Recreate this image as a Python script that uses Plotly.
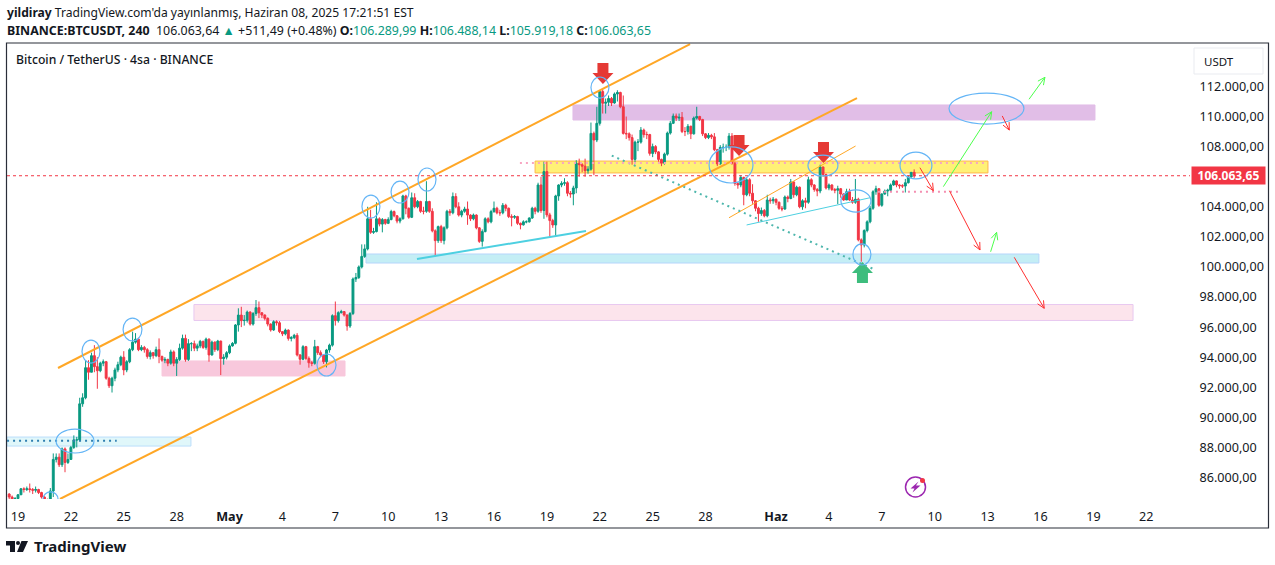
import math
import pandas as pd
import plotly.graph_objects as go

# 4h candles, prices in thousands of USDT
first_candle = "2025-04-18 12:00"
closes = [
    84.7, 84.5, 84.6, 84.85, 85.25, 85.2, 85.25, 85.2, 85.15, 85.2,
    85.0, 84.7, 84.5, 84.5, 85.1, 87.2, 87.35, 86.85, 87.9, 87.0,
    87.2, 88.0, 88.5, 88.5, 90.9, 91.3, 93.3, 93.0, 94.1, 93.37,
    93.1, 93.6, 93.7, 92.6, 92.1, 92.6, 93.15, 93.5, 94.0, 93.15,
    93.7, 94.5, 95.0, 95.2, 94.5, 94.65, 94.5, 94.05, 94.3, 94.1,
    94.5, 94.05, 93.8, 93.85, 93.6, 94.35, 93.6, 93.85, 94.6, 95.25,
    93.85, 94.9, 94.9, 94.6, 94.75, 95.05, 94.65, 95.2, 94.15, 95.0,
    94.5, 95.07, 93.9, 94.0, 94.3, 94.75, 94.92, 96.14, 96.8, 96.43,
    96.45, 97.0, 96.2, 96.9, 97.29, 96.95, 96.8, 96.58, 96.2, 95.81,
    96.36, 96.29, 95.7, 95.55, 95.8, 95.25, 95.3, 95.45, 94.15, 93.86,
    94.7, 93.92, 93.63, 93.59, 94.7, 94.3, 94.14, 93.7, 94.48, 94.8,
    96.76, 96.43, 96.96, 97.03, 96.8, 96.07, 96.9, 99.2, 99.3, 100.0,
    100.7, 101.2, 103.2, 102.3, 102.35, 103.2, 102.85, 103.15, 102.9, 103.15,
    103.68, 103.4, 103.05, 103.2, 104.72, 103.9, 103.3, 104.6, 104.0, 104.35,
    103.7, 103.7, 104.35, 103.7, 102.4, 101.75, 102.68, 101.75, 102.6, 103.7,
    103.6, 104.68, 104.0, 103.45, 103.7, 103.85, 103.45, 103.2, 103.45, 102.6,
    101.7, 102.35, 103.2, 103.0, 103.68, 103.9, 103.6, 103.6, 104.1, 103.9,
    103.35, 103.3, 103.35, 102.9, 102.8, 103.0, 103.0, 103.25, 103.9, 103.7,
    105.45, 103.75, 106.34, 103.46, 103.08, 102.79, 104.72, 105.45, 105.56, 105.6,
    104.9, 104.85, 105.25, 106.9, 106.8, 106.7, 106.4, 106.5, 108.88, 108.44,
    109.55, 111.66, 110.88, 110.95, 111.2, 110.9, 111.5, 111.6, 110.65, 108.88,
    108.85, 108.6, 107.15, 108.3, 108.3, 109.1, 108.8, 108.8, 107.55, 108.0,
    107.65, 107.15, 106.9, 107.5, 108.9, 109.55, 110.03, 109.9, 109.95, 109.0,
    109.0, 109.35, 108.85, 109.9, 110.0, 109.8, 108.85, 108.6, 108.75, 108.65,
    107.8, 106.85, 107.95, 107.95, 107.95, 108.7, 106.9, 105.55, 105.45, 105.95,
    104.8, 105.8, 104.9, 104.4, 103.9, 103.55, 103.75, 103.4, 104.45, 104.4,
    104.5, 104.3, 103.9, 103.85, 104.65, 104.55, 105.65, 104.8, 105.3, 104.0,
    104.4, 104.3, 105.8, 105.45, 105.15, 105.05, 106.65, 106.15, 105.25, 105.45,
    105.15, 105.1, 105.2, 104.85, 104.45, 105.0, 104.45, 104.3, 104.5, 101.8,
    101.46, 102.42, 103.0, 103.9, 105.0, 105.2, 104.1, 104.85, 105.05, 105.1,
    105.45, 105.72, 105.45, 105.4, 105.38, 105.6, 105.98, 106.29, 106.06365,
]
highs = [
    84.95, 84.8, 84.7, 84.9, 85.3, 85.35, 85.4, 85.6, 85.3, 85.4,
    85.25, 85.05, 84.75, 84.6, 85.3, 87.6, 87.6, 87.6, 88.0, 88.0,
    87.6, 88.1, 88.8, 88.7, 91.3, 91.6, 93.8, 93.8, 94.3, 94.8,
    94.0, 93.7, 93.85, 93.75, 92.7, 92.7, 93.3, 93.7, 94.1, 94.4,
    93.8, 94.6, 95.7, 95.6, 95.3, 94.8, 94.75, 94.6, 94.45, 94.35,
    94.7, 95.25, 94.1, 94.0, 93.9, 94.5, 94.45, 94.0, 94.9, 95.5,
    95.5, 95.2, 95.0, 95.1, 94.9, 95.15, 95.1, 95.3, 95.25, 95.1,
    95.05, 95.15, 95.1, 94.2, 94.4, 94.85, 95.0, 96.2, 97.25, 97.35,
    96.8, 97.1, 97.05, 97.0, 97.8, 97.7, 97.0, 96.85, 96.65, 96.25,
    96.45, 96.45, 96.4, 95.7, 95.9, 95.85, 95.4, 95.55, 95.6, 94.2,
    94.8, 94.75, 94.05, 93.75, 95.15, 94.75, 94.45, 94.2, 94.55, 94.9,
    96.85, 97.7, 97.05, 97.15, 97.05, 96.85, 97.0, 99.3, 99.6, 100.1,
    101.5, 101.5, 104.0, 103.8, 102.6, 104.3, 103.3, 103.25, 103.2, 103.3,
    103.8, 103.75, 103.45, 103.3, 104.8, 104.8, 103.95, 104.95, 104.9, 104.45,
    104.4, 104.0, 105.7, 104.4, 103.9, 102.5, 102.75, 102.8, 102.7, 103.8,
    103.85, 104.95, 104.9, 104.3, 103.8, 104.0, 104.35, 103.5, 103.55, 103.5,
    102.65, 102.5, 103.3, 103.3, 103.8, 104.35, 104.0, 103.8, 104.25, 104.2,
    103.95, 103.5, 103.45, 103.4, 102.95, 103.1, 103.1, 103.3, 104.0, 104.0,
    105.6, 106.0, 107.0, 107.0, 103.6, 103.2, 104.8, 105.5, 105.7, 105.9,
    105.7, 105.05, 105.4, 107.1, 107.2, 106.9, 107.2, 106.7, 109.6, 109.0,
    110.65, 111.75, 111.8, 111.2, 111.4, 111.3, 111.6, 111.75, 111.65, 111.4,
    110.0, 108.95, 108.8, 108.4, 108.5, 109.3, 109.2, 109.0, 108.85, 108.2,
    108.1, 107.7, 107.2, 107.6, 109.0, 109.7, 110.2, 110.2, 110.2, 110.3,
    109.3, 109.5, 109.4, 110.0, 110.65, 110.05, 109.85, 108.9, 108.9, 108.85,
    108.9, 107.85, 108.1, 108.2, 108.15, 108.9, 108.9, 107.0, 105.65, 106.1,
    106.0, 105.9, 105.9, 105.5, 104.45, 104.0, 103.95, 103.85, 104.8, 104.6,
    104.65, 104.55, 104.35, 104.05, 104.75, 104.75, 105.85, 105.7, 105.4, 105.35,
    104.5, 104.6, 106.0, 105.9, 105.5, 105.25, 106.8, 106.65, 106.2, 105.55,
    105.5, 105.25, 105.4, 105.25, 104.9, 105.2, 105.2, 104.65, 105.85, 104.6,
    101.9, 102.5, 103.1, 104.05, 105.1, 105.4, 105.25, 104.9, 105.15, 105.2,
    105.55, 105.8, 105.75, 105.5, 105.5, 105.85, 106.1, 106.3, 106.48814,
]
lows = [
    84.5, 84.4, 84.4, 84.5, 84.85, 85.0, 85.1, 85.0, 84.9, 85.0,
    84.9, 84.6, 84.4, 84.3, 84.4, 84.7, 87.0, 86.7, 86.7, 86.35,
    86.9, 87.2, 87.9, 88.0, 88.4, 90.7, 91.2, 92.5, 93.0, 93.0,
    91.9, 93.0, 93.4, 92.5, 91.95, 91.65, 92.4, 93.0, 93.4, 92.8,
    93.0, 93.6, 94.4, 94.9, 94.4, 94.4, 94.3, 93.9, 93.85, 93.9,
    94.0, 93.6, 93.7, 93.6, 93.4, 93.5, 93.4, 92.75, 93.75, 94.5,
    93.7, 93.75, 94.4, 94.4, 94.4, 94.6, 94.55, 94.5, 93.7, 94.1,
    94.35, 94.4, 92.81, 93.5, 93.85, 94.2, 94.7, 94.85, 95.7, 96.0,
    96.1, 96.3, 96.1, 96.1, 96.75, 96.6, 96.6, 96.45, 96.05, 95.7,
    95.75, 96.1, 95.6, 95.4, 95.45, 95.1, 95.05, 95.2, 94.05, 93.5,
    93.8, 93.8, 93.3, 93.4, 93.5, 94.15, 94.0, 93.55, 93.32, 94.3,
    94.7, 96.1, 96.3, 96.9, 96.7, 95.76, 95.95, 96.8, 99.0, 99.2,
    99.9, 100.6, 101.1, 102.2, 102.2, 102.3, 102.7, 102.3, 102.8, 102.85,
    103.1, 103.3, 102.9, 102.9, 103.15, 103.5, 103.2, 103.25, 103.9, 103.9,
    103.6, 103.5, 103.6, 103.6, 102.3, 100.69, 101.6, 101.6, 101.5, 102.5,
    103.4, 103.5, 103.9, 103.35, 103.3, 103.6, 102.8, 103.05, 103.1, 102.5,
    101.6, 101.35, 102.3, 102.9, 102.9, 103.6, 103.5, 103.4, 103.5, 103.7,
    103.25, 102.7, 103.2, 102.8, 102.5, 102.75, 102.9, 102.95, 103.2, 103.5,
    103.6, 103.6, 103.2, 103.3, 102.0, 102.6, 102.06, 104.4, 105.3, 105.4,
    104.7, 104.6, 104.1, 104.9, 106.0, 106.3, 106.0, 106.2, 106.4, 106.1,
    108.3, 109.4, 110.2, 110.2, 110.7, 110.7, 110.85, 111.0, 110.55, 108.8,
    108.5, 108.4, 106.8, 106.9, 107.7, 108.2, 108.6, 108.5, 107.4, 107.3,
    107.5, 107.0, 106.7, 106.8, 107.4, 108.8, 109.5, 109.7, 109.7, 108.9,
    108.7, 108.8, 108.5, 108.8, 109.8, 109.7, 108.7, 108.5, 108.5, 108.5,
    107.7, 106.7, 106.8, 107.6, 107.7, 107.8, 106.8, 105.4, 105.2, 105.3,
    104.1, 104.7, 104.7, 104.2, 103.7, 103.0, 103.4, 103.3, 103.3, 104.2,
    104.2, 104.1, 103.8, 103.7, 103.8, 104.3, 104.5, 104.6, 104.7, 103.9,
    103.8, 103.9, 104.2, 105.3, 105.0, 104.7, 104.9, 106.0, 105.15, 105.1,
    105.05, 104.9, 104.18, 104.6, 104.4, 104.5, 104.4, 104.2, 104.2, 101.7,
    100.35, 101.3, 102.3, 102.9, 103.8, 104.8, 104.0, 104.0, 104.8, 104.7,
    105.05, 105.4, 105.3, 105.2, 105.25, 104.95, 105.55, 105.95, 105.91918,
]
opens = [84.9] + closes[:-1]
last_price = closes[-1]

# the last price tag covers the 106.000,00 label, so that tick is left out
price_ticks = [86, 88, 90, 92, 94, 96, 98, 100, 102, 104, 108, 110, 112]
price_labels = ["86.000,00", "88.000,00", "90.000,00", "92.000,00", "94.000,00",
                "96.000,00", "98.000,00", "100.000,00", "102.000,00", "104.000,00",
                "108.000,00", "110.000,00", "112.000,00"]
# days counted from 19 April
date_ticks = [0, 3, 6, 9, 12, 15, 18, 21, 24, 27, 30, 33, 36, 39, 43, 46, 49, 52, 55, 58, 61, 64]
date_labels = ["19", "22", "25", "28", "<b>May</b>", "4", "7", "10", "13", "16", "19", "22",
               "25", "28", "<b>Haz</b>", "4", "7", "10", "13", "16", "19", "22"]

# drawings: (start day, low, end day, high)
zones = [
    (-0.62, 88.09, 9.81, 88.69, "rgba(178,235,242,0.4)", "#bbdefb"),
    (8.17, 92.75, 18.55, 93.75, "#f8c8dc", "#f8c8dc"),
    (9.98, 96.44, 63.25, 97.5, "#fce4ec", "#e8c8f0"),
    (19.74, 100.26, 57.91, 100.86, "#c4eef5", "#b5d5fb"),
    (29.33, 106.25, 55.02, 107.04, "#fff176", "#ffb74d"),
    (31.48, 109.77, 61.09, 110.77, "#e1bee7", "#e1bee7"),
]
circles = [
    (1.42, 84.1, 2.27, 85.04), (2.16, 87.63, 4.31, 89.22), (3.63, 93.61, 4.65, 95.14),
    (5.96, 95.08, 7.03, 96.6), (16.96, 92.75, 18.04, 94.21), (19.51, 103.25, 20.53, 104.78),
    (21.16, 104.25, 22.18, 105.71), (22.69, 105.05, 23.71, 106.58), (32.5, 111.23, 33.52, 112.63),
    (39.2, 105.58, 41.69, 107.98), (44.81, 106.05, 46.51, 107.44), (46.68, 103.65, 48.38, 105.12),
    (47.36, 100.13, 48.38, 101.53), (50.03, 105.85, 51.84, 107.64), (52.81, 109.5, 57.06, 111.56),
]
# (start day, start price, end day, end price, colour, width, dash)
trend_lines = [
    (2.27, 93.28, 38.12, 114.82, "#ffa726", 2, "solid"),
    (2.38, 84.57, 47.59, 111.23, "#ffa726", 2, "solid"),
    (40.33, 103.27, 47.51, 108.04, "#ffa726", 1, "solid"),
    (22.63, 100.53, 32.22, 102.39, "#4dd0e1", 2, "solid"),
    (41.33, 102.79, 48.33, 104.6, "#4dd0e1", 1, "solid"),
    (33.68, 107.4, 48.65, 99.8, "#4db6ac", 2, "2px,4px"),
    (-0.62, 88.45, 5.6, 88.45, "#2f7fb0", 2, "2px,4px"),
    (28.47, 106.91, 55.0, 106.91, "#f8a5c2", 2, "2px,4px"),
    (48.78, 105.0, 53.38, 105.0, "#f48fb1", 2, "2px,4px"),
]
# (start day, start price, end day, end price, colour)
thin_arrows = [
    (52.49, 105.34, 55.23, 110.32, "#4cff4c"),
    (57.35, 111.15, 58.25, 112.61, "#4cff4c"),
    (55.17, 101.01, 55.51, 102.3, "#4cff4c"),
    (55.83, 110.04, 56.23, 109.1, "#ff3030"),
    (51.16, 106.6, 51.92, 105.07, "#ff3030"),
    (52.83, 105.07, 54.57, 101.13, "#ff3030"),
    (56.51, 100.64, 58.21, 97.25, "#ff3030"),
]
# (tip day, tip price, colour, direction)
block_arrows = [
    (33.18, 112.16, "#e53935", -1),
    (40.9, 107.38, "#e53935", -1),
    (45.69, 106.91, "#e53935", -1),
    (47.9, 100.33, "#3dbd7d", 1),
]

PX_PER_DAY = 17.63
PX_PER_K = 15.04
LEFT, RIGHT, TOP, BOTTOM = 7, 1190, 43, 499


def day(n):
    return (pd.Timestamp("2025-04-19") + pd.Timedelta(days=n)).isoformat()


def fx(px):
    return (px - LEFT) / (RIGHT - LEFT)


def fy(py):
    return (BOTTOM - py) / (BOTTOM - TOP)


candle_times = [t.isoformat() for t in pd.date_range(first_candle, periods=len(closes), freq="4h")]

fig = go.Figure(go.Candlestick(
    x=candle_times, open=opens, high=highs, low=lows, close=closes,
    increasing=dict(line=dict(color="#089981", width=1), fillcolor="#089981"),
    decreasing=dict(line=dict(color="#f23645", width=1), fillcolor="#f23645"),
    showlegend=False, hoverinfo="skip",
))

for d0, p0, d1, p1, fill, edge in zones:
    fig.add_shape(type="rect", x0=day(d0), x1=day(d1), y0=p0, y1=p1, fillcolor=fill,
                  line=dict(color=edge, width=1), layer="below")

for d0, p0, d1, p1, color, width, dash in trend_lines:
    fig.add_shape(type="line", x0=day(d0), x1=day(d1), y0=p0, y1=p1,
                  line=dict(color=color, width=width, dash=dash))

fig.add_shape(type="line", x0=0, x1=1, xref="x domain", y0=last_price, y1=last_price,
              line=dict(color="#f23645", width=1, dash="dot"))

for d0, p0, d1, p1 in circles:
    fig.add_shape(type="circle", x0=day(d0), x1=day(d1), y0=p0, y1=p1,
                  line=dict(color="#64b5f6", width=1.2))

for d0, p0, d1, p1, color in thin_arrows:
    fig.add_shape(type="line", x0=day(d0), x1=day(d1), y0=p0, y1=p1, line=dict(color=color, width=1))
    # open head, worked out in screen proportions
    angle = math.atan2((p1 - p0) * PX_PER_K, (d1 - d0) * PX_PER_DAY)
    for wing in (angle + 2.7, angle - 2.7):
        fig.add_shape(type="line", x0=day(d1), y0=p1,
                      x1=day(d1 + 8 * math.cos(wing) / PX_PER_DAY),
                      y1=p1 + 8 * math.sin(wing) / PX_PER_K,
                      line=dict(color=color, width=1))

for tip_day, tip_price, color, direction in block_arrows:
    w = [-5.5, -5.5, -10.5, 0, 10.5, 5.5, 5.5, -5.5]
    h = [21, 11, 11, 0, 11, 11, 21, 21]
    fig.add_trace(go.Scatter(
        x=[day(tip_day + a / PX_PER_DAY) for a in w],
        y=[tip_price - direction * b / PX_PER_K for b in h],
        mode="lines", fill="toself", fillcolor=color, line=dict(color=color, width=0),
        showlegend=False, hoverinfo="skip",
    ))

# frame, price scale button and logos sit outside the plot area
fig.add_shape(type="rect", xref="paper", yref="paper", x0=fx(6.5), x1=fx(1268.5), y0=fy(43), y1=fy(528),
              line=dict(color="#2a2e39", width=1.2))
fig.add_shape(type="rect", xref="paper", yref="paper", x0=fx(1194), x1=fx(1263), y0=fy(48), y1=fy(74),
              line=dict(color="#e9ebf0", width=1))


def paper_path(points):
    return "M " + " L ".join(f"{fx(a)},{fy(b)}" for a, b in points) + " Z"


logo_parts = [
    [(6, 541), (15, 541), (15, 552), (10, 552), (10, 545.5), (6, 545.5)],
    [(21.5, 541), (28, 541), (23, 552), (17, 552)],
]
for part in logo_parts:
    fig.add_shape(type="path", xref="paper", yref="paper", path=paper_path(part),
                  fillcolor="#131722", line=dict(width=0))
fig.add_shape(type="circle", xref="paper", yref="paper", x0=fx(16), x1=fx(20), y0=fy(545), y1=fy(541),
              fillcolor="#131722", line=dict(width=0))

fig.add_shape(type="circle", xref="paper", yref="paper", x0=fx(905.5), x1=fx(925.5), y0=fy(497), y1=fy(477),
              line=dict(color="#9c27b0", width=1.5))
fig.add_shape(type="path", xref="paper", yref="paper",
              path=paper_path([(918.5, 481.5), (910.5, 488.5), (914.5, 488.5), (912.5, 492.5), (920.5, 485.5), (916, 485.5)]),
              fillcolor="#9c27b0", line=dict(width=0))
fig.add_shape(type="circle", xref="paper", yref="paper", x0=fx(920), x1=fx(925), y0=fy(483), y1=fy(478),
              fillcolor="#f23645", line=dict(width=0))

GREEN = "#089981"
header_1 = "<b>yildiray</b> TradingView.com'da yayınlanmış, Haziran 08, 2025 17:21:51 EST"
header_2 = (f"<b>BINANCE:BTCUSDT, 240</b>  106.063,64 <span style='color:{GREEN}'>▲</span> +511,49 (+0.48%) "
            f"<b>O:</b><span style='color:{GREEN}'>106.289,99</span> "
            f"<b>H:</b><span style='color:{GREEN}'>106.488,14</span> "
            f"<b>L:</b><span style='color:{GREEN}'>105.919,18</span> "
            f"<b>C:</b><span style='color:{GREEN}'>106.063,65</span>")
texts = [
    (6, 12, header_1, 12.1, "#131722", 400),
    (6, 30, header_2, 12.4, "#131722", 400),
    (15, 60, "Bitcoin / TetherUS · 4sa · BINANCE", 12.2, "#131722", 500),
    (1203, 61, "USDT", 11.5, "#131722", 400),
    (33, 546, "<b>TradingView</b>", 15, "#131722", 400),
]
for px, py, text, size, color, weight in texts:
    fig.add_annotation(xref="paper", yref="paper", x=fx(px), y=fy(py), text=text, showarrow=False,
                       xanchor="left", yanchor="middle", align="left", borderpad=0,
                       font=dict(size=size, color=color, weight=weight))

fig.add_annotation(xref="paper", yref="y", x=fx(1191), y=last_price, text="<b>106.063,65</b>", showarrow=False,
                   xanchor="left", yanchor="middle", width=73, height=17, bgcolor="#f23645", borderpad=0,
                   font=dict(size=12, color="white"))

fig.update_layout(
    width=1275, height=565,
    margin=dict(l=LEFT, r=1275 - RIGHT, t=TOP, b=565 - BOTTOM),
    paper_bgcolor="white", plot_bgcolor="white",
    font=dict(family="Noto Sans", size=12.6, color="#131722"),
    showlegend=False, boxgap=0.2, boxgroupgap=0.2,
    xaxis=dict(
        type="date", range=[day(-0.624), day(66.48)], rangeslider=dict(visible=False),
        tickvals=[day(n) for n in date_ticks], ticktext=date_labels,
        showgrid=False, zeroline=False, showline=False, ticks="outside", ticklen=6, tickcolor="white",
    ),
    yaxis=dict(
        range=[84.57, 114.89], side="right", tickvals=price_ticks, ticktext=price_labels,
        showgrid=False, zeroline=False, showline=False, ticks="outside", ticklen=6, tickcolor="white",
    ),
)

# the page's own body margin would push the fixed-size figure 8px off
fig.write_html("out.html", config={"displayModeBar": False}, post_script="document.body.style.margin = '0';")
